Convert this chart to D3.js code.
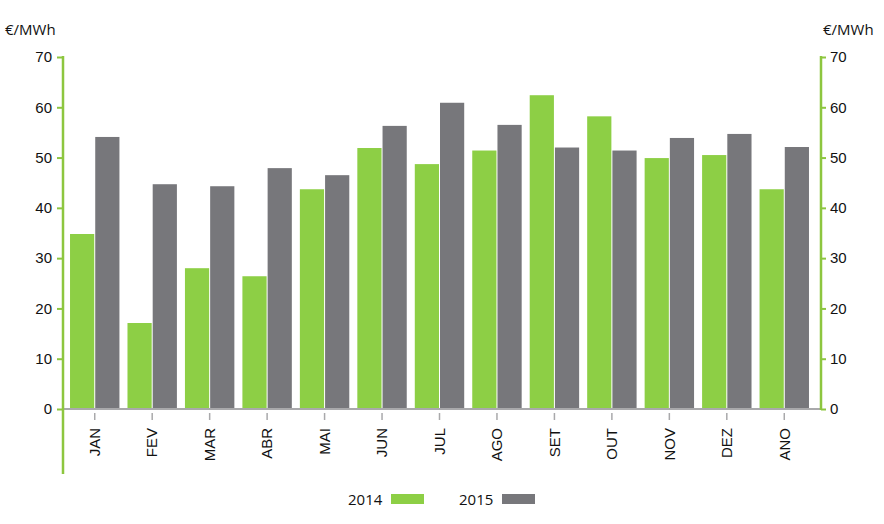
<!DOCTYPE html>
<html>
<head>
<meta charset="utf-8">
<script src="https://cdn.jsdelivr.net/npm/d3@7"></script>
<style>
  body { margin: 0; background: #fff; }
  svg { font-family: "Open Sans", "Noto Sans", sans-serif; }
</style>
</head>
<body>
<svg id="chart" width="884" height="524"></svg>
<script>
// dati
var meses = ["JAN", "FEV", "MAR", "ABR", "MAI", "JUN", "JUL", "AGO", "SET", "OUT", "NOV", "DEZ", "ANO"];
var valores2014 = [34.8, 17.1, 28.0, 26.4, 43.7, 51.9, 48.7, 51.4, 62.4, 58.2, 49.9, 50.5, 43.7];
var valores2015 = [54.1, 44.7, 44.3, 47.9, 46.5, 56.3, 60.9, 56.5, 52.0, 51.4, 53.9, 54.7, 52.1];
var anos = ["2014", "2015"];
var yTicks = [0, 10, 20, 30, 40, 50, 60, 70];

var verde = "#8dcf45", cinza = "#77777b", eixo = "#8dc63f";
var fs = "15px";

var svg = d3.select("#chart");
var mLeft = 63, mRight = 821, mTop = 57, mBottom = 409;

var x = d3.scaleBand().domain(meses).range([66, 813]).paddingInner(0.14).paddingOuter(0.07);
var xs = d3.scaleBand().domain(anos).range([0, x.bandwidth()]).paddingInner(0.04);
var y = d3.scaleLinear().domain([0, 70]).range([mBottom, mTop]);

// barre
var dados = meses.map(function(m, i){ return {mes: m, v: [valores2014[i], valores2015[i]]}; });
var g = svg.append("g");
g.selectAll("g.grp")
  .data(dados)
  .enter().append("g")
  .attr("transform", function(d){ return "translate(" + x(d.mes) + ",0)"; })
  .selectAll("rect")
  .data(function(d){ return d.v.map(function(v, k){ return {ano: anos[k], v: v}; }); })
  .enter().append("rect")
  .attr("x", function(d){ return xs(d.ano); })
  .attr("y", function(d){ return y(d.v); })
  .attr("width", xs.bandwidth())
  .attr("height", function(d){ return mBottom - y(d.v); })
  .style("fill", function(d){ return d.ano == "2014" ? verde : cinza; });

// linha de base
svg.append("line")
  .attr("x1", mLeft).attr("x2", mRight)
  .attr("y1", mBottom).attr("y2", mBottom)
  .style("stroke", "#a9a9ab").style("stroke-width", 2);

// eixo x
var ax = svg.append("g").attr("transform", "translate(0," + (mBottom + 1) + ")")
  .call(d3.axisBottom(x).tickSize(10).tickPadding(0));
ax.select(".domain").remove();
ax.selectAll(".tick line").style("stroke", "#a9a9ab").style("stroke-width", 1.5).attr("y1", 3);
ax.selectAll(".tick text")
  .attr("transform", "rotate(-90)")
  .attr("x", -18).attr("y", 0).attr("dy", "0.35em")
  .style("text-anchor", "end")
  .style("font-size", fs)
  .style("fill", "#111");

// eixo esquerdo
var ay = svg.append("g").attr("transform", "translate(" + mLeft + ",0)")
  .call(d3.axisLeft(y).tickValues(yTicks).tickSize(6).tickPadding(5));
ay.select(".domain").remove();
ay.selectAll(".tick line").style("stroke", eixo).style("stroke-width", 2);
ay.selectAll(".tick text").style("font-size", fs).style("fill", "#111");
svg.append("line")
  .attr("x1", mLeft).attr("x2", mLeft).attr("y1", mTop - 1).attr("y2", 474)
  .style("stroke", eixo).style("stroke-width", 2.5);

// eixo direito
var ay2 = svg.append("g").attr("transform", "translate(" + mRight + ",0)")
  .call(d3.axisRight(y).tickValues(yTicks).tickSize(5).tickPadding(4));
ay2.select(".domain").remove();
ay2.selectAll(".tick line").style("stroke", eixo).style("stroke-width", 2);
ay2.selectAll(".tick text").style("font-size", fs).style("fill", "#111");
svg.append("line")
  .attr("x1", mRight).attr("x2", mRight).attr("y1", mTop - 1).attr("y2", mBottom + 1)
  .style("stroke", eixo).style("stroke-width", 2.5);

// unidades
svg.append("text").attr("x", 5).attr("y", 35).style("font-size", fs).style("fill", "#111").text("€/MWh");
svg.append("text").attr("x", 823).attr("y", 35).style("font-size", fs).style("fill", "#111").text("€/MWh");

// legenda
var leg = [{t: "2014", c: verde, x: 348}, {t: "2015", c: cinza, x: 459}];
leg.forEach(function(l){
  svg.append("text").attr("x", l.x).attr("y", 505).style("font-size", fs).style("fill", "#111").text(l.t);
  svg.append("rect").attr("x", l.x + 43).attr("y", 494).attr("width", 33).attr("height", 10).style("fill", l.c);
});
</script>
</body>
</html>
